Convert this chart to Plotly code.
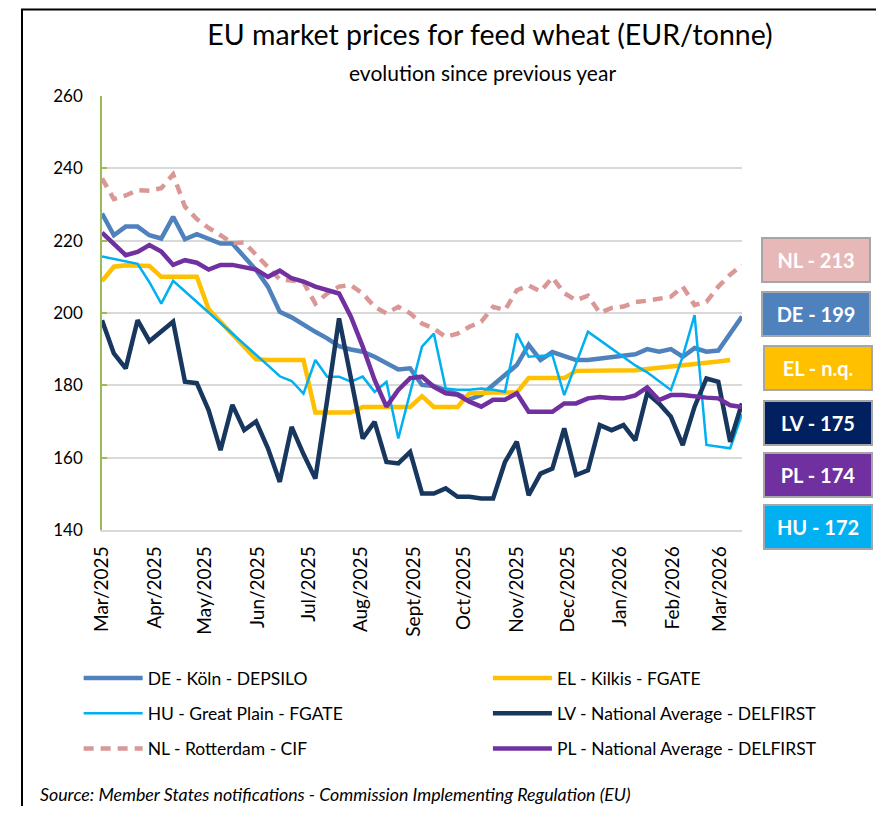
import pandas as pd
import plotly.graph_objects as go

# ---------------- data ----------------
weeks = [d.strftime("%Y-%m-%d") for d in pd.date_range("2025-03-03", periods=55, freq="7D")]

tick_dates = ["2025-03-03", "2025-04-03", "2025-05-03", "2025-06-03", "2025-07-03",
              "2025-08-03", "2025-09-03", "2025-10-03", "2025-11-03", "2025-12-03",
              "2026-01-03", "2026-02-03", "2026-03-03"]
tick_labels = ["Mar/2025", "Apr/2025", "May/2025", "Jun/2025", "Jul/2025", "Aug/2025",
               "Sept/2025", "Oct/2025", "Nov/2025", "Dec/2025", "Jan/2026", "Feb/2026", "Mar/2026"]

de = [227.5, 221.5, 223.9, 223.9, 221.5, 220.6, 226.6, 220.4, 221.8, 220.6,
      219.2, 219.2, 215.6, 211.9, 207.3, 200.3, 198.8, 196.7, 194.8, 193.0,
      190.8, 189.9, 189.3, 187.9, 186.0, 184.4, 184.7, 180.1, 179.8, 178.7,
      177.6, 176.1, 177.3, 180.1, 182.8, 185.6, 191.2, 187.0, 189.2, 188.2,
      187.0, 187.0, 187.4, 187.8, 188.2, 188.6, 190.0, 189.3, 190.0, 187.9,
      190.3, 189.3, 189.6, 194.3, 199.0]
el = [208.8, 212.8, 213.2, 213.2, 213.0, 210.0, 210.0, 210.0, 210.0, 201.0,
      197.6, 194.0, 190.7, 187.2, 187.0, 187.0, 187.0, 187.0, 172.5, 172.5,
      172.5, 172.5, 174.0, 174.0, 174.0, 174.0, 174.0, 177.0, 174.0, 174.0,
      174.0, 177.8, 178.0, 178.0, 178.0, 178.0, 182.0, 182.0, 182.0, 182.0,
      184.0, 184.0, 184.0, 184.0, 184.0, 184.2, 184.5, 184.8, 185.2, 185.6,
      186.0, 186.3, 186.6, 187.0, None]
hu = [215.6, 214.9, 214.3, 213.6, 208.5, 202.6, 208.9, 206.0, 203.0, 200.0,
      197.2, 194.3, 191.3, 188.4, 185.5, 182.5, 181.2, 177.7, 187.0, 182.4,
      182.4, 181.0, 182.4, 178.2, 181.0, 165.3, 178.0, 190.7, 194.3, 179.1,
      178.8, 178.8, 179.1, 178.8, 178.2, 194.3, 187.9, 188.2, 188.4, 177.3,
      186.0, 194.8, 192.5, 190.1, 187.8, 185.5, 183.6, 181.2, 178.7, 188.0,
      199.4, 163.5, 163.0, 162.6, 172.0]
lv = [198.0, 188.8, 184.7, 198.0, 192.2, 195.0, 197.6, 181.0, 180.6, 173.1,
      162.1, 174.6, 167.6, 170.0, 162.6, 153.3, 168.5, 161.0, 154.2, 176.0,
      198.5, 182.0, 165.3, 169.9, 158.8, 158.4, 161.6, 150.1, 150.1, 151.5,
      149.2, 149.2, 148.7, 148.7, 158.8, 164.4, 149.6, 155.6, 157.0, 168.1,
      155.2, 156.5, 169.0, 167.6, 169.0, 164.8, 177.8, 175.0, 171.3, 163.5,
      174.1, 181.9, 181.0, 164.4, 175.0]
nl = [237.2, 231.5, 232.5, 234.0, 233.8, 234.5, 238.3, 229.4, 226.0, 223.5,
      221.5, 219.3, 219.5, 216.0, 212.5, 209.3, 209.0, 208.5, 202.6, 205.4,
      207.3, 207.7, 205.4, 201.7, 199.9, 201.7, 199.9, 197.1, 195.7, 193.4,
      194.3, 196.2, 197.6, 201.7, 200.8, 206.3, 207.6, 206.0, 209.8, 205.5,
      203.5, 204.8, 200.0, 201.4, 201.8, 203.0, 203.4, 204.0, 204.5, 207.3,
      202.2, 203.1, 207.3, 210.6, 213.2]
pl = [222.2, 219.2, 216.0, 216.9, 218.8, 217.0, 213.3, 214.6, 213.9, 212.0,
      213.3, 213.3, 212.8, 212.0, 210.0, 211.7, 209.6, 208.7, 207.3, 206.4,
      205.4, 199.0, 190.7, 181.5, 174.1, 178.7, 182.0, 182.4, 179.6, 177.8,
      177.4, 175.5, 174.1, 176.0, 176.0, 177.8, 172.7, 172.7, 172.7, 175.0,
      175.0, 176.4, 176.8, 176.4, 176.4, 177.2, 179.4, 175.9, 177.3, 177.3,
      176.8, 176.6, 176.4, 174.5, 174.0]

series_names = ["DE - Köln - DEPSILO", "EL - Kilkis - FGATE", "HU - Great Plain - FGATE",
                "LV - National Average - DELFIRST", "NL - Rotterdam - CIF",
                "PL - National Average - DELFIRST"]
box_labels = ["NL", "DE", "EL", "LV", "PL", "HU"]

# ---------------- figure ----------------
FONT = "Lato"
W, H = 876, 798   # page body adds an 8px margin
fig = go.Figure()

specs = [
    (de, series_names[0], "#4F81BD", 4.5, "solid", "legend", "g1"),
    (el, series_names[1], "#FFC000", 4.5, "solid", "legend2", "g2"),
    (hu, series_names[2], "#00B0F0", 2.5, "solid", "legend", "g3"),
    (lv, series_names[3], "#17375E", 4.5, "solid", "legend2", "g4"),
    (nl, series_names[4], "#D99795", 4.5, "10px,7px", "legend", "g5"),
    (pl, series_names[5], "#7030A0", 4.5, "solid", "legend2", "g6"),
]
for vals, name, color, width, dash, leg, grp in specs:
    fig.add_trace(go.Scatter(
        x=weeks, y=vals, name=name, mode="lines",
        line=dict(color=color, width=width, dash=dash),
        connectgaps=False, legend=leg, legendgroup=grp,
    ))

legend_common = dict(
    orientation="v", traceorder="grouped", tracegroupgap=9.5, itemwidth=59,
    font=dict(family=FONT, size=17.5, color="#000000"),
    bgcolor="rgba(0,0,0,0)", xanchor="left", yanchor="top",
)

fig.update_layout(
    width=W, height=H, autosize=False,
    margin=dict(l=94, r=142, t=88, b=276),
    paper_bgcolor="white", plot_bgcolor="white",
    font=dict(family=FONT, color="#000000"),
    title=dict(text="EU market prices for feed wheat (EUR/tonne)",
               x=(490 - 8) / W, xref="container", xanchor="center",
               y=1 - 27 / H, yref="container", yanchor="middle",
               font=dict(family=FONT, size=28.5, color="#000000")),
    legend=dict(x=-0.0365, y=-0.30, **legend_common),
    legend2=dict(x=0.603, y=-0.30, **legend_common),
    showlegend=True,
)

fig.update_yaxes(
    range=[140, 260], dtick=20, showgrid=True, gridcolor="#D9D9D9", gridwidth=1.5,
    showline=True, linecolor="#9BBB59", linewidth=1.5,
    ticks="inside", ticklen=5, tickcolor="#9BBB59", tickwidth=1.5,
    ticklabelstandoff=14, zeroline=False,
    tickfont=dict(family=FONT, size=17, color="#000000"),
)
fig.update_xaxes(
    type="date", range=[weeks[0], weeks[-1]], showgrid=False,
    showline=True, linecolor="#D9D9D9", linewidth=1.5,
    tickmode="array", tickvals=tick_dates, ticktext=tick_labels,
    tickangle=-90, ticks="", ticklabelstandoff=7,
    tickfont=dict(family=FONT, size=19, color="#000000"),
)

# subtitle
fig.add_annotation(text="evolution since previous year", xref="paper", yref="paper",
                   x=(482 - 102) / 640, y=1.055, showarrow=False, xanchor="center", yanchor="middle",
                   font=dict(family=FONT, size=21, color="#000000"))

# source
fig.add_annotation(text="<i>Source: Member States notifications - Commission Implementing Regulation (EU)</i>",
                   xref="paper", yref="paper", x=-0.1, y=-0.608, showarrow=False,
                   xanchor="left", yanchor="middle",
                   font=dict(family=FONT, size=17.8, color="#000000"))

# right-side value boxes
last_vals = {"NL": nl[-1], "DE": de[-1], "EL": el[-1], "LV": lv[-1], "PL": pl[-1], "HU": hu[-1]}
box_colors = {"NL": "#E6B9B8", "DE": "#4F81BD", "EL": "#FFC000",
              "LV": "#002060", "PL": "#7030A0", "HU": "#00B0F0"}
box_y = [0.622, 0.4988, 0.3733, 0.2454, 0.1267, 0.0069]
box_x = [1.1156, 1.1156, 1.118, 1.118, 1.118, 1.118]
for lab, yy, xx in zip(box_labels, box_y, box_x):
    v = last_vals[lab]
    txt = f"<b>{lab} - {'n.q.' if v is None else round(v)}</b>"
    fig.add_annotation(text=txt, xref="paper", yref="paper", x=xx, y=yy,
                       showarrow=False, xanchor="center", yanchor="middle",
                       width=104, height=40, bgcolor=box_colors[lab],
                       bordercolor="#A6A6A6", borderwidth=2, borderpad=1,
                       font=dict(family=FONT, size=20, color="#FFFFFF"))

# outer chart border
fig.add_shape(type="rect", xref="paper", yref="paper",
              x0=-0.125, x1=(870 - 94) / 640, y0=-0.72, y1=1 + (88 - 1.5) / 434,
              line=dict(color="#000000", width=2), fillcolor="rgba(0,0,0,0)", layer="below")

fig.write_html("out.html")
